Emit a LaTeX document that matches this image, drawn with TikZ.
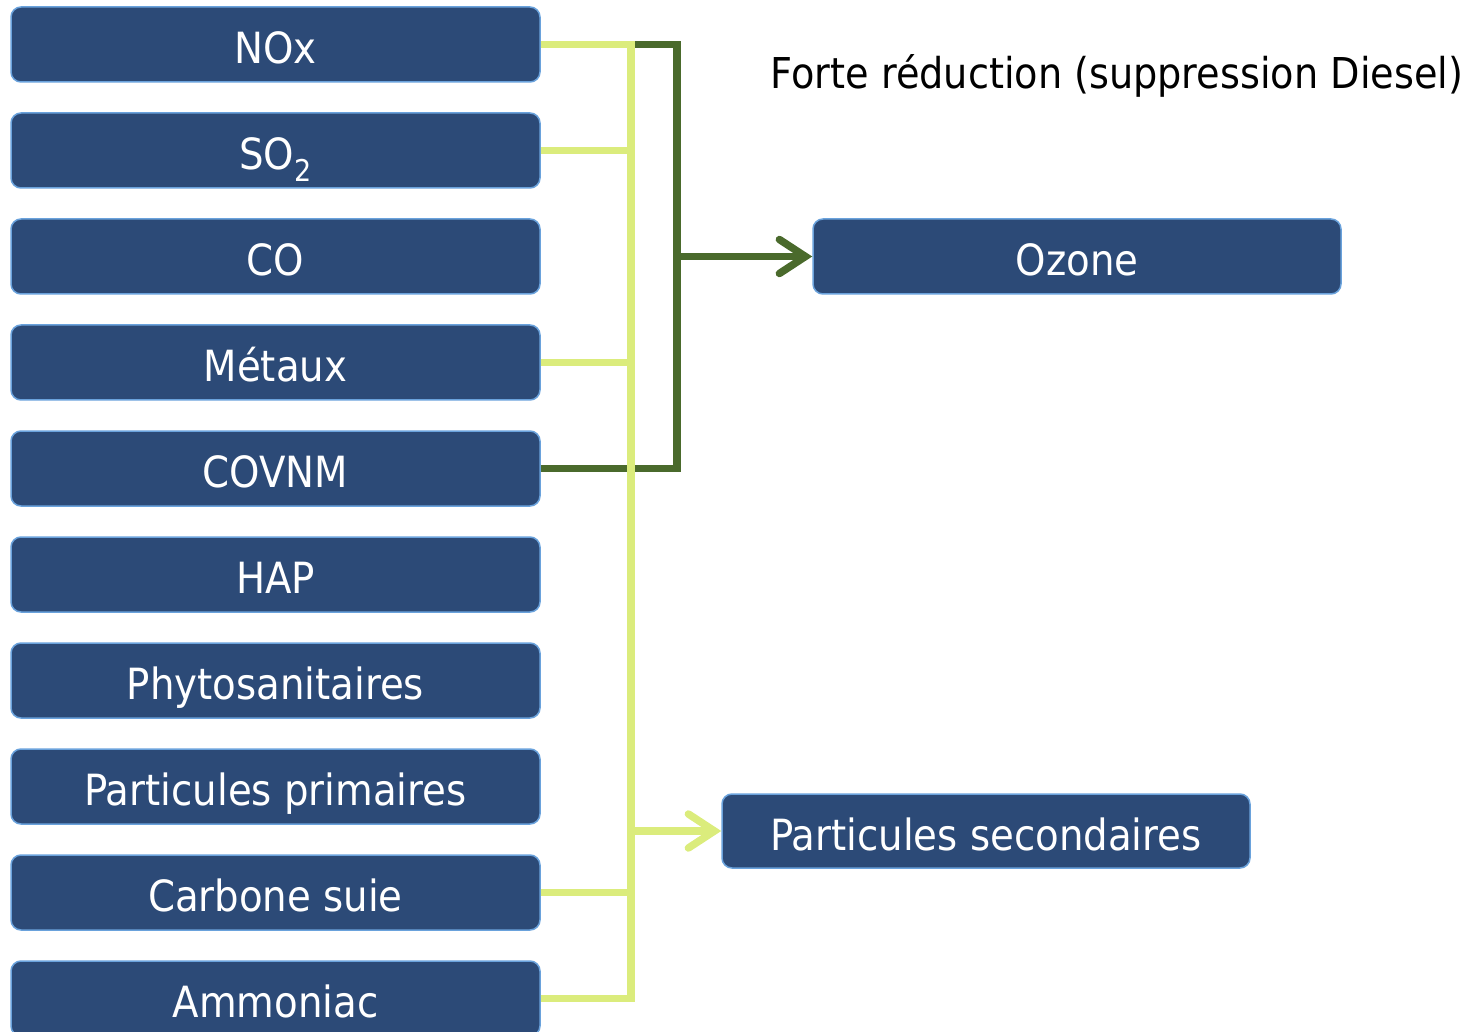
\documentclass[tikz,border=0pt]{standalone}
\usepackage{fontspec}
\setmainfont{DejaVu Sans Condensed}
\usetikzlibrary{arrows.meta}
\definecolor{boxfill}{HTML}{2C4A77}
\definecolor{boxline}{HTML}{6AA2DC}
\definecolor{lightlink}{HTML}{DBEC7C}
\definecolor{darklink}{HTML}{4A6A2C}
\tikzset{
  pbox/.style={draw=boxline, line width=1.5pt, fill=boxfill, rounded corners=10pt,
    minimum width=529pt, minimum height=75pt, inner sep=0pt,
    text height=38pt, text depth=0pt,
    text=white, font=\fontsize{43}{50}\selectfont},
  lightlink/.style={draw=lightlink, line width=7.5pt},
  darklink/.style={draw=darklink, line width=7.5pt},
  barb/.style={-{Straight Barb[length=26pt, width=34pt, line cap=round]}},
}
\newcommand{\subtwo}{\raisebox{-0.28em}{\fontsize{30}{32}\selectfont 2}}
\begin{document}
\begin{tikzpicture}[x=1pt,y=-1pt]
\useasboundingbox (0,0) rectangle (1468,1032);
% pollutant boxes
\node[pbox] (nox)   at (275.5,44.5)  {NOx};
\node[pbox] (so2)   at (275.5,150.5) {SO\subtwo};
\node[pbox] (co)    at (275.5,256.5) {CO};
\node[pbox] (met)   at (275.5,362.5) {Métaux};
\node[pbox] (covnm) at (275.5,468.5) {COVNM};
\node[pbox] (hap)   at (275.5,574.5) {HAP};
\node[pbox] (phyto) at (275.5,680.5) {Phytosanitaires};
\node[pbox] (pp)    at (275.5,786.5) {Particules primaires};
\node[pbox] (cs)    at (275.5,892.5) {Carbone suie};
\node[pbox] (amm)   at (275.5,998.5) {Ammoniac};
% products
\node[pbox, minimum width=528pt] (ozone) at (1077,256.5) {Ozone};
\node[pbox, minimum width=528pt, minimum height=74pt] (ps) at (986,831) {Particules secondaires};
\node[font=\fontsize{42.5}{50}\selectfont, anchor=center] (note) at (1117,76) {Forte réduction (suppression Diesel)};
% bus lines
\coordinate (bus) at (631,0);
\coordinate (dbus) at (677,0);
% ozone precursors
\draw[darklink] (nox.east -| bus) -| (covnm.east -| dbus) -- (covnm.east);
\draw[darklink, barb] (ozone.west -| dbus) -- (ozone.west);
% secondary particle precursors
\draw[lightlink] (amm.east) -| (nox.east -| bus) -- (nox.east);
\draw[lightlink] (so2.east) -- (so2.east -| bus);
\draw[lightlink] (met.east) -- (met.east -| bus);
\draw[lightlink] (cs.east) -- (cs.east -| bus);
\draw[lightlink, barb] (ps.west -| bus) -- (ps.west);
\end{tikzpicture}
\end{document}
